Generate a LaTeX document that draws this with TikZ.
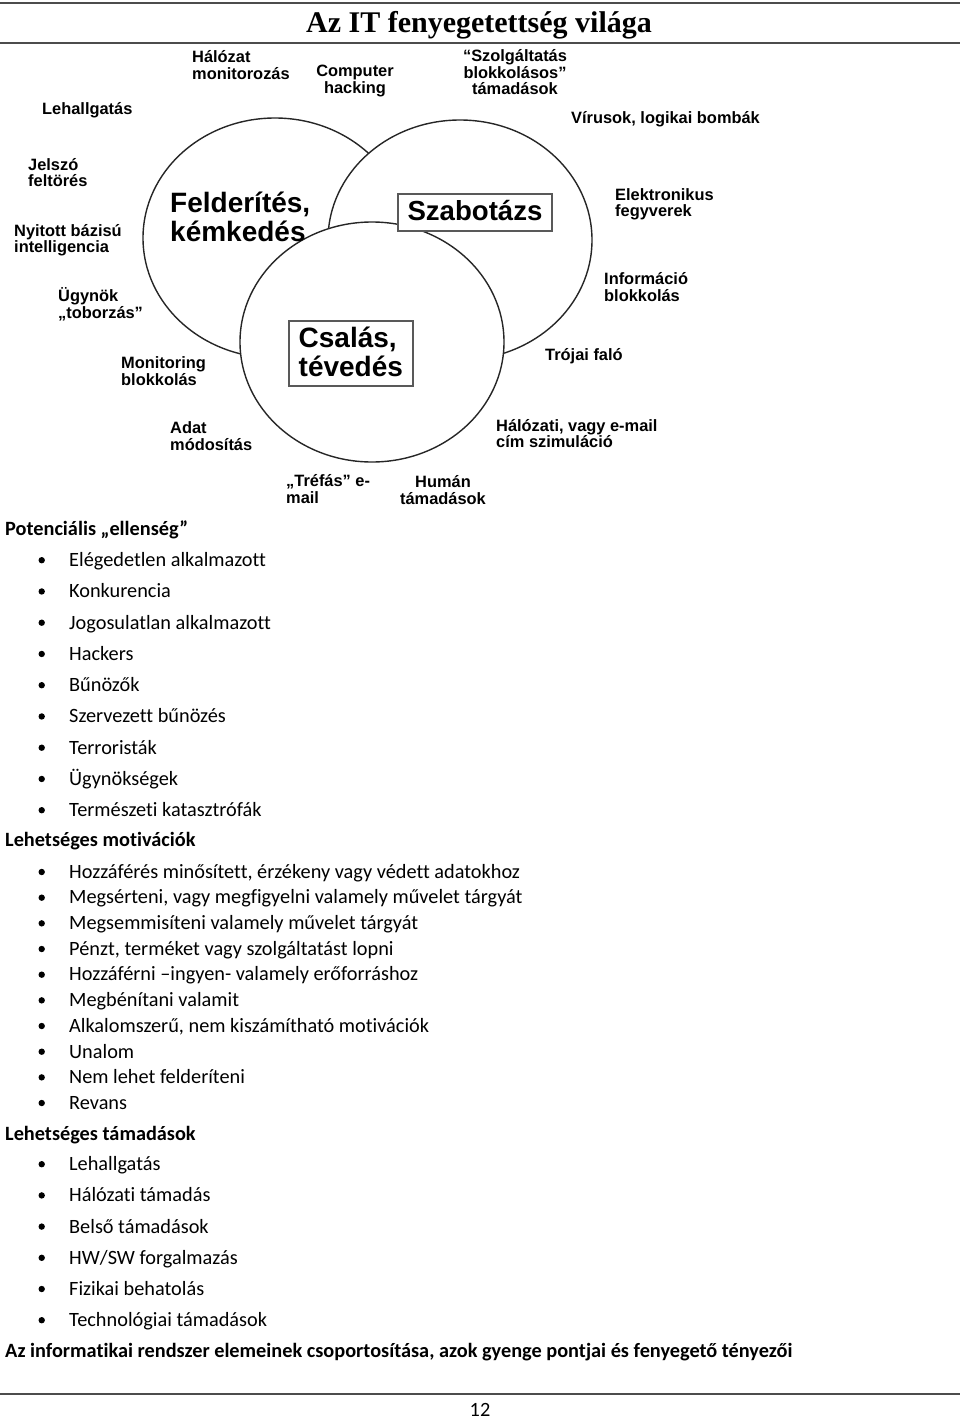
\documentclass[tikz,border=0pt]{standalone}
\usepackage{fontspec}
\setmainfont[Ligatures={TeX,NoCommon}]{Carlito}
\newfontfamily\arialfont{Liberation Sans}
\newfontfamily\titlefont{Liberation Serif}
\usetikzlibrary{shapes.geometric, positioning}

\begin{document}
\begin{tikzpicture}[
    x=1pt, y=-1pt,
    area/.style={ellipse, draw=black!85, fill=white, line width=1.4pt, minimum width=264pt, minimum height=240pt, inner sep=0pt},
    catbox/.style={draw=black!65, fill=white, line width=1.2pt, inner sep=0pt, font=\arialfont\bfseries\fontsize{27.6}{29}\selectfont},
    cat/.style={font=\arialfont\bfseries\fontsize{28}{29}\selectfont, align=left, inner sep=0pt, anchor=base west},
    lbl/.style={font=\arialfont\bfseries\fontsize{16.4}{16.5}\selectfont, align=left, inner sep=0pt, anchor=base west},
    clbl/.style={lbl, align=center, anchor=base},
    head/.style={font=\bfseries\fontsize{20.3}{24}\selectfont, inner sep=0pt, anchor=base west},
    item/.style={font=\fontsize{20.3}{24}\selectfont, inner sep=0pt, anchor=base west},
    rule/.style={draw=black!70, line width=1.6pt}
  ]
    \useasboundingbox (0,0) rectangle (960,1419);

    %% ═══════════════════════════════════════════════
    %% LAYOUT: 1 unit = 1 px of the page (y grows down)
    %%   header:  y = 0 … 45
    %%   venn:    y = 45 … 510
    %%   lists:   y = 510 … 1365
    %%   footer:  y = 1390 … 1419
    %% multi-line labels sit on the baseline of their last line
    %% ═══════════════════════════════════════════════

    %% ── Header ──
    \draw[rule] (0,3) -- (960,3);
    \node[font=\titlefont\bfseries\fontsize{30}{30}\selectfont, inner sep=0pt, anchor=base] (title) at (479,32) {Az IT fenyegetettség világa};
    \draw[rule] (0,43) -- (960,43);

    %% ── Three threat areas (white discs, later ones cover earlier ones) ──
    \node[area] (felderitesarea) at (275,238) {};
    \node[area] (szabotazsarea)  at (460,240) {};
    \node[area] (csalasarea)     at (372,342) {};

    \node[cat] (felderites) at (170,241.7) {Felderítés,\\kémkedés};
    \node[catbox, minimum width=154pt, minimum height=37pt, text height=20pt, text depth=5pt] (szabotazs) at (475,212.5) {Szabotázs};
    \node[catbox, minimum width=124pt, minimum height=65pt] (csalas) at (351,353.5) {};
    \node[cat] (csalastxt) at (298.5,376) {Csalás,\\tévedés};

    %% ── Threats round the areas ──
    \node[lbl]  (halozat)  at (192,79)    {Hálózat\\monitorozás};
    \node[clbl] (hacking)  at (355,93)    {Computer\\hacking};
    \node[clbl] (szolg)    at (515,94.5)  {“Szolgáltatás\\blokkolásos”\\támadások};
    \node[lbl]  (lehall)   at (42,114)    {Lehallgatás};
    \node[lbl]  (virus)    at (571,123)   {Vírusok, logikai bombák};
    \node[lbl]  (jelszo)   at (28,186.7)  {Jelszó\\feltörés};
    \node[lbl]  (nyitott)  at (14,252.5)  {Nyitott bázisú\\intelligencia};
    \node[lbl]  (ugynok)   at (58,318)    {Ügynök\\„toborzás”};
    \node[lbl]  (monblokk) at (121,385)   {Monitoring\\blokkolás};
    \node[lbl]  (adat)     at (170,450)   {Adat\\módosítás};
    \node[lbl]  (trefas)   at (286,503.3) {„Tréfás” e-\\mail};
    \node[clbl] (human)    at (443,504)   {Humán\\támadások};
    \node[lbl]  (elektr)   at (615,216.8) {Elektronikus\\fegyverek};
    \node[lbl]  (info)     at (604,301)   {Információ\\blokkolás};
    \node[lbl]  (trojai)   at (545,360)   {Trójai faló};
    \node[lbl]  (halszim)  at (496,447.7) {Hálózati, vagy e-mail\\cím szimuláció};

    %% ── Potenciális ellenség ──
    \node[head] (enemy) at (5,535) {Potenciális „ellenség”};
    \foreach \txt [count=\i] in {Elégedetlen alkalmazott, Konkurencia, Jogosulatlan alkalmazott,
        Hackers, Bűnözők, Szervezett bűnözés, Terroristák, Ügynökségek, Természeti katasztrófák} {
      \node[item] (enemy\i) at (69,{566.7+31.25*(\i-1)}) {\txt};
      \fill ([shift={(-27.3,-6.5)}]enemy\i.base west) circle (3.2pt);
    }

    %% ── Lehetséges motivációk ──
    \node[head] (motiv) at (5,846.7) {Lehetséges motivációk};
    \foreach \txt [count=\i] in {{Hozzáférés minősített, érzékeny vagy védett adatokhoz},
        {Megsérteni, vagy megfigyelni valamely művelet tárgyát},
        Megsemmisíteni valamely művelet tárgyát,
        {Pénzt, terméket vagy szolgáltatást lopni},
        Hozzáférni –ingyen- valamely erőforráshoz,
        Megbénítani valamit,
        {Alkalomszerű, nem kiszámítható motivációk},
        Unalom, Nem lehet felderíteni, Revans} {
      \node[item] (motiv\i) at (69,{878.3+25.67*(\i-1)}) {\txt};
      \fill ([shift={(-27.3,-6.3)}]motiv\i.base west) circle (3.2pt);
    }

    %% ── Lehetséges támadások ──
    \node[head] (attack) at (5,1140) {Lehetséges támadások};
    \foreach \txt [count=\i] in {Lehallgatás, Hálózati támadás, Belső támadások,
        HW/SW forgalmazás, Fizikai behatolás, Technológiai támadások} {
      \node[item] (attack\i) at (69,{1170.7+31.2*(\i-1)}) {\txt};
      \fill ([shift={(-27.3,-6.5)}]attack\i.base west) circle (3.2pt);
    }

    \node[head] (grouping) at (5,1357.3) {Az informatikai rendszer elemeinek csoportosítása, azok gyenge pontjai és fenyegető tényezői};

    %% ── Footer ──
    \draw[rule] (0,1394) -- (960,1394);
    \node[item, anchor=base] (pagenum) at (480,1416.5) {12};

\end{tikzpicture}
\end{document}
